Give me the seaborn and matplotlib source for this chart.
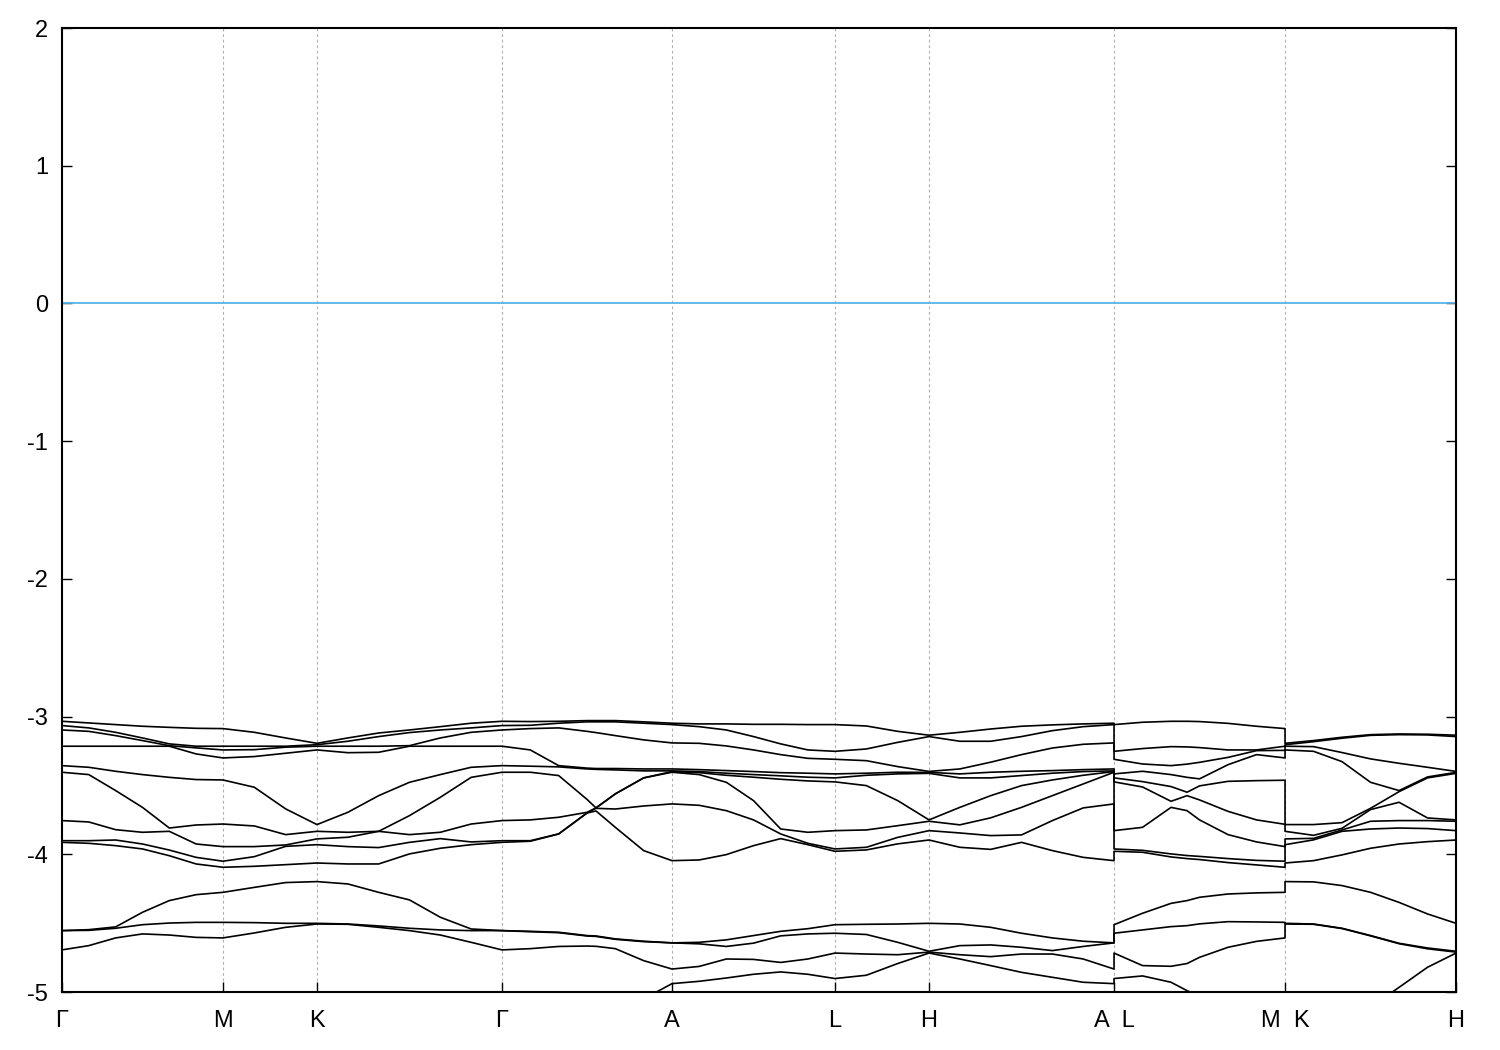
import numpy as np
import pandas as pd
import matplotlib
matplotlib.use("Agg")
import matplotlib.pyplot as plt
import seaborn as sns

# --- high-symmetry path ---
K_NODES = [0.0, 0.3465, 0.5488, 0.9469, 1.3128, 1.6636, 1.8659, 2.2640, 2.6320, 3.0]
K_LABELS = ["Γ", "M", "K", "Γ", "A", "L", "H", "A  L", "M  K", "H"]

# where along each segment the energies were read (fraction of the segment)
# segments: Γ-M, M-K, K-Γ, Γ-A, A-L, L-H, H-A, L-M, K-H
SIXTHS = [0, 1/6, 2/6, 3/6, 4/6, 5/6, 1]
THIRDS = [0, 1/3, 2/3, 1]
SEG_FRACTIONS = [SIXTHS, THIRDS, SIXTHS,
                 [0, 1/6, 2/6, 3/6, 0.553, 4/6, 5/6, 1],
                 SIXTHS, THIRDS, SIXTHS,
                 [0, 1/6, 2/6, 0.427, 3/6, 4/6, 5/6, 1],
                 SIXTHS]
JUMP_SEGMENTS = [7, 8]   # segments that start after a break (A|L, M|K)

E_MIN, E_MAX = -5, 2

# --- band energies (eV), read along the path ---
BAND_01 = [-3.034, -3.046, -3.058, -3.070, -3.078, -3.085, -3.087,
           -3.114, -3.155, -3.194,
           -3.155, -3.119, -3.097, -3.073, -3.048, -3.034,
           -3.036, -3.034, -3.029, -3.029, -3.029, -3.038, -3.048,
           -3.053, -3.053, -3.056, -3.056, -3.058, -3.058,
           -3.068, -3.107, -3.135,
           -3.114, -3.090, -3.070, -3.060, -3.053, -3.048,
           -3.058, -3.041, -3.034, -3.034, -3.036, -3.049, -3.070, -3.087,
           -3.194, -3.174, -3.150, -3.131, -3.126, -3.128, -3.135]
BAND_02 = [-3.065, -3.082, -3.114, -3.155, -3.198, -3.215, -3.215,
           -3.215, -3.215, -3.204,
           -3.179, -3.145, -3.116, -3.097, -3.082, -3.065,
           -3.063, -3.048, -3.038, -3.038, -3.038, -3.048, -3.058,
           -3.073, -3.097, -3.145, -3.198, -3.242, -3.252,
           -3.235, -3.187, -3.145,
           -3.179, -3.179, -3.145, -3.102, -3.073, -3.058,
           -3.252, -3.232, -3.218, -3.220, -3.225, -3.242, -3.242, -3.215,
           -3.204, -3.182, -3.157, -3.136, -3.131, -3.133, -3.145]
BAND_03 = [-3.097, -3.107, -3.138, -3.174, -3.211, -3.227, -3.242,
           -3.240, -3.222, -3.215,
           -3.215, -3.215, -3.211, -3.155, -3.114, -3.097,
           -3.087, -3.082, -3.107, -3.116, -3.138, -3.169, -3.191,
           -3.194, -3.213, -3.242, -3.276, -3.303, -3.310,
           -3.320, -3.363, -3.398,
           -3.380, -3.331, -3.276, -3.228, -3.201, -3.191,
           -3.310, -3.344, -3.356, -3.345, -3.332, -3.296, -3.247, -3.245,
           -3.215, -3.218, -3.261, -3.307, -3.339, -3.368, -3.398]
BAND_04 = [-3.215, -3.215, -3.215, -3.215, -3.215, -3.271, -3.300,
           -3.290, -3.266, -3.242,
           -3.262, -3.259, -3.215, -3.215, -3.215, -3.215,
           -3.242, -3.356, -3.374, -3.377, -3.377, -3.380, -3.380,
           -3.385, -3.392, -3.399, -3.407, -3.411, -3.416,
           -3.411, -3.404, -3.405,
           -3.416, -3.404, -3.397, -3.392, -3.385, -3.380,
           -3.416, -3.397, -3.421, -3.441, -3.452, -3.349, -3.276, -3.300,
           -3.242, -3.252, -3.327, -3.477, -3.537, -3.438, -3.405]
BAND_05 = [-3.356, -3.368, -3.397, -3.421, -3.441, -3.457, -3.460,
           -3.513, -3.670, -3.784,
           -3.695, -3.574, -3.477, -3.421, -3.368, -3.356,
           -3.360, -3.365, -3.380, -3.383, -3.387, -3.394, -3.394,
           -3.399, -3.411, -3.421, -3.430, -3.440, -3.445,
           -3.426, -3.416, -3.412,
           -3.445, -3.445, -3.428, -3.411, -3.399, -3.394,
           -3.445, -3.472, -3.508, -3.549, -3.503, -3.470, -3.465, -3.462,
           -3.784, -3.784, -3.770, -3.666, -3.545, -3.445, -3.412]
BAND_06 = [-3.404, -3.421, -3.537, -3.659, -3.809, -3.787, -3.780,
           -3.794, -3.857, -3.833,
           -3.840, -3.833, -3.719, -3.586, -3.441, -3.404,
           -3.404, -3.428, -3.601, -3.663, -3.561, -3.445, -3.399,
           -3.407, -3.426, -3.440, -3.455, -3.467, -3.474,
           -3.501, -3.610, -3.750,
           -3.659, -3.574, -3.501, -3.460, -3.426, -3.399,
           -3.474, -3.511, -3.615, -3.574, -3.605, -3.688, -3.750, -3.782,
           -3.833, -3.862, -3.811, -3.675, -3.622, -3.736, -3.750]
BAND_07 = [-3.755, -3.765, -3.821, -3.840, -3.833, -3.925, -3.944,
           -3.944, -3.932, -3.888,
           -3.876, -3.833, -3.857, -3.840, -3.780, -3.755,
           -3.750, -3.731, -3.695, -3.663, -3.561, -3.445, -3.404,
           -3.421, -3.477, -3.610, -3.816, -3.840, -3.828,
           -3.823, -3.792, -3.760,
           -3.786, -3.735, -3.659, -3.574, -3.489, -3.404,
           -3.828, -3.804, -3.659, -3.683, -3.750, -3.857, -3.910, -3.944,
           -3.888, -3.884, -3.823, -3.760, -3.755, -3.755, -3.760]
BAND_08 = [-3.901, -3.901, -3.896, -3.925, -3.969, -4.022, -4.050,
           -4.017, -3.942, -3.930,
           -3.944, -3.951, -3.913, -3.886, -3.910, -3.901,
           -3.901, -3.852, -3.700, -3.666, -3.671, -3.649, -3.634,
           -3.644, -3.683, -3.750, -3.852, -3.920, -3.961,
           -3.949, -3.877, -3.828,
           -3.845, -3.864, -3.859, -3.755, -3.663, -3.634,
           -3.961, -3.971, -3.997, -4.009, -4.015, -4.031, -4.044, -4.050,
           -3.930, -3.895, -3.833, -3.816, -3.809, -3.813, -3.828]
BAND_09 = [-3.913, -3.920, -3.937, -3.961, -4.010, -4.070, -4.094,
           -4.087, -4.075, -4.063,
           -4.070, -4.070, -3.997, -3.956, -3.930, -3.913,
           -3.905, -3.852, -3.700, -3.685, -3.804, -3.973, -4.046,
           -4.041, -4.002, -3.937, -3.886, -3.930, -3.978,
           -3.968, -3.924, -3.896,
           -3.949, -3.964, -3.913, -3.973, -4.022, -4.046,
           -3.978, -3.985, -4.019, -4.031, -4.038, -4.060, -4.077, -4.094,
           -4.063, -4.046, -4.004, -3.956, -3.925, -3.908, -3.896]
BAND_10 = [-4.554, -4.547, -4.527, -4.421, -4.336, -4.293, -4.276,
           -4.240, -4.205, -4.198,
           -4.215, -4.276, -4.331, -4.457, -4.542, -4.554,
           -4.559, -4.566, -4.590, -4.593, -4.614, -4.631, -4.643,
           -4.639, -4.621, -4.590, -4.559, -4.540, -4.511,
           -4.508, -4.506, -4.501,
           -4.506, -4.530, -4.573, -4.607, -4.631, -4.643,
           -4.511, -4.428, -4.356, -4.336, -4.312, -4.288, -4.280, -4.276,
           -4.198, -4.200, -4.227, -4.276, -4.349, -4.433, -4.501]
BAND_11 = [-4.554, -4.552, -4.537, -4.511, -4.499, -4.494, -4.494,
           -4.496, -4.501, -4.501,
           -4.506, -4.520, -4.537, -4.549, -4.554, -4.554,
           -4.562, -4.569, -4.593, -4.596, -4.617, -4.634, -4.643,
           -4.650, -4.669, -4.645, -4.592, -4.578, -4.573,
           -4.582, -4.639, -4.704,
           -4.663, -4.658, -4.675, -4.699, -4.669, -4.643,
           -4.573, -4.549, -4.525, -4.518, -4.505, -4.489, -4.491, -4.494,
           -4.501, -4.506, -4.537, -4.590, -4.646, -4.680, -4.704]
BAND_12 = [-4.694, -4.663, -4.607, -4.578, -4.586, -4.603, -4.607,
           -4.571, -4.530, -4.506,
           -4.508, -4.530, -4.554, -4.586, -4.639, -4.694,
           -4.685, -4.669, -4.666, -4.668, -4.685, -4.772, -4.833,
           -4.814, -4.760, -4.763, -4.785, -4.760, -4.717,
           -4.724, -4.729, -4.710,
           -4.729, -4.743, -4.724, -4.724, -4.760, -4.833,
           -4.717, -4.808, -4.813, -4.793, -4.748, -4.675, -4.632, -4.607,
           -4.506, -4.508, -4.539, -4.592, -4.649, -4.686, -4.710]
BAND_13 = [-5.55, -5.52, -5.48, -5.45, -5.42, -5.38, -5.35,
           -5.37, -5.40, -5.42,
           -5.45, -5.48, -5.50, -5.52, -5.54, -5.55,
           -5.52, -5.45, -5.35, -5.32, -5.20, -5.05, -4.939,
           -4.922, -4.898, -4.871, -4.854, -4.871, -4.902,
           -4.878, -4.793, -4.717,
           -4.760, -4.808, -4.857, -4.893, -4.929, -4.939,
           -4.902, -4.883, -4.929, -4.990, -5.03, -5.15, -5.25, -5.35,
           -5.42, -5.35, -5.25, -5.11, -4.966, -4.820, -4.717]

BANDS = [BAND_01, BAND_02, BAND_03, BAND_04, BAND_05, BAND_06, BAND_07,
         BAND_08, BAND_09, BAND_10, BAND_11, BAND_12, BAND_13]

# k sampling grid along the path (break points are repeated)
k_path = []
for i, fr in enumerate(SEG_FRACTIONS):
    a, b = K_NODES[i], K_NODES[i + 1]
    pts = [a + f * (b - a) for f in fr]
    if i == 0 or i in JUMP_SEGMENTS:
        k_path.extend(pts)
    else:
        k_path.extend(pts[1:])

rows = []
for b, energies in enumerate(BANDS):
    for kk, e in zip(k_path, energies):
        rows.append({"band": b, "k": kk, "E": e})
df = pd.DataFrame(rows)

# --- plot ---
sns.set_style("ticks")
plt.rcParams["font.family"] = ["Liberation Sans", "DejaVu Sans"]
plt.rcParams["axes.unicode_minus"] = False

fig = plt.figure(figsize=(15, 10.5), dpi=100)
ax = fig.add_axes([0.0413, 0.0552, 0.9294, 0.9181])

# gnuplot style dotted grid at the high-symmetry points
for kx in K_NODES[1:-1]:
    ax.axvline(kx, color="#b0b0b0", lw=0.8, ls=(0, (2.5, 2.5)), zorder=0)

ax.axhline(0, color="#56b4e9", lw=1.3, zorder=1)

sns.lineplot(data=df, x="k", y="E", units="band", estimator=None, sort=False,
             color="black", lw=1.2, ax=ax, legend=False, zorder=2)

ax.set_xlim(K_NODES[0], K_NODES[-1])
ax.set_ylim(E_MIN, E_MAX)
ax.set_xticks(K_NODES)
ax.set_xticklabels(K_LABELS)
ax.set_yticks(range(E_MIN, E_MAX + 1))
ax.set_xlabel("")
ax.set_ylabel("")

ax.tick_params(axis="both", direction="in", length=7, width=1.0,
               labelsize=17, colors="black")
ax.tick_params(axis="y", right=True, left=True, pad=10)
ax.tick_params(axis="x", top=False, bottom=True, pad=13)

for sp in ax.spines.values():
    sp.set_visible(True)
    sp.set_linewidth(1.5)
    sp.set_color("black")

fig.savefig("out.png", dpi=100, facecolor="white")
